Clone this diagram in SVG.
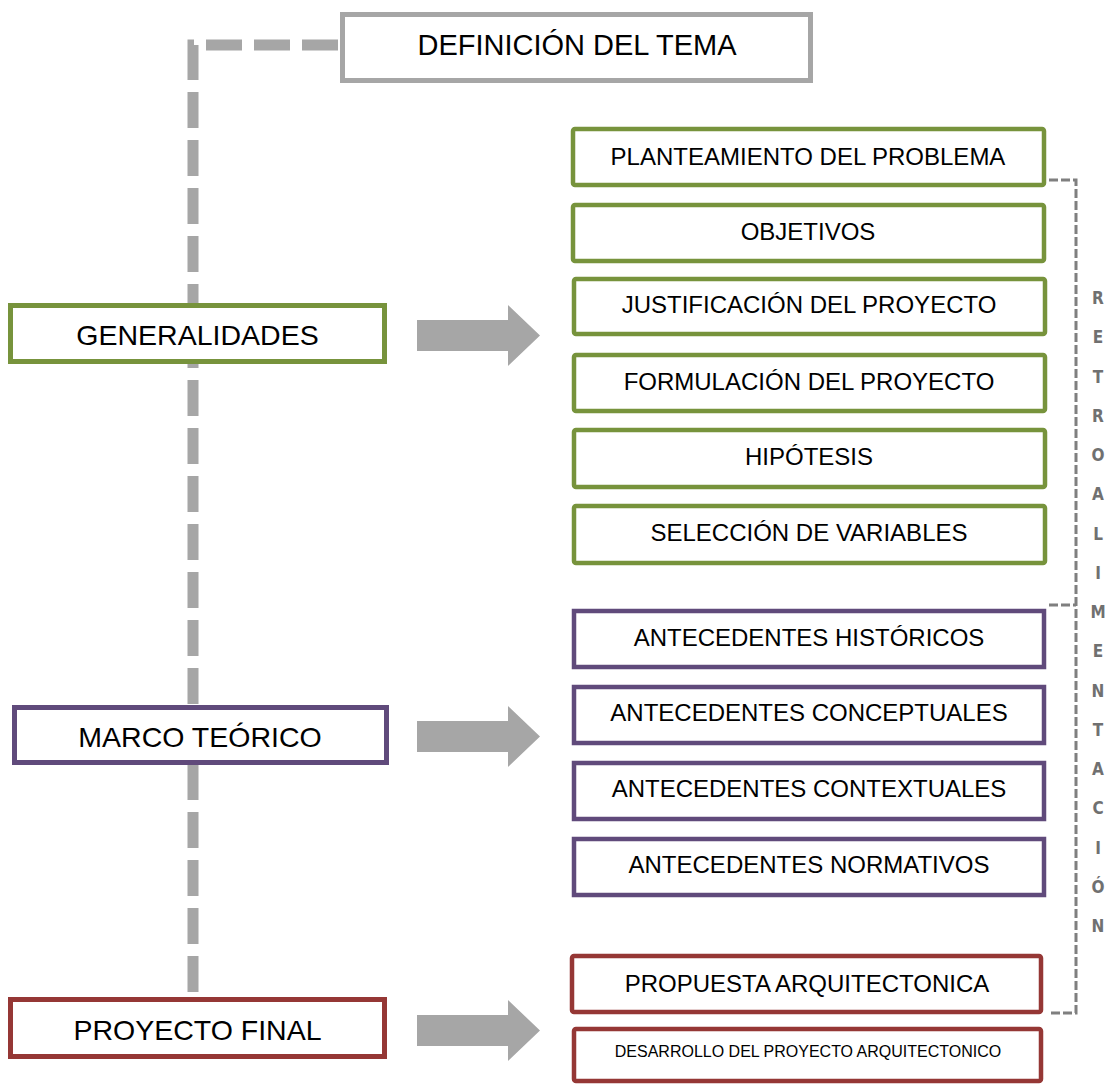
<svg xmlns="http://www.w3.org/2000/svg" width="1110" height="1084" viewBox="0 0 1110 1084">
<style>
.t{font-family:"Liberation Sans",Arial,sans-serif;fill:#000;text-anchor:middle}
.big{font-size:28.5px}
.mid{font-size:24px}
.g{fill:#fff;stroke:#77933c;stroke-width:5}
.gs{fill:#fff;stroke:#77933c;stroke-width:4.5}
.p{fill:#fff;stroke:#604a7b;stroke-width:5}
.ps{fill:#fff;stroke:#604a7b;stroke-width:4.5}
.r{fill:#fff;stroke:#953735;stroke-width:5}
.rs{fill:#fff;stroke:#953735;stroke-width:4.5}
.arrow{fill:#a6a6a6}
.retro{font-family:"Liberation Sans Narrow","DejaVu Sans Condensed","Liberation Sans",sans-serif;font-size:17px;font-weight:600;fill:#707070;text-anchor:middle}
</style>
<rect width="1110" height="1084" fill="#fff"/>
<g id="connectors">
  <path d="M338 45 H193 V995" fill="none" stroke="#a6a6a6" stroke-width="11" stroke-dasharray="36 12"/>
  <g fill="none" stroke="#7f7f7f" stroke-width="3" stroke-dasharray="9 3">
    <path d="M1049 180 H1076 V1013 H1049"/>
    <path d="M1049 605 H1076"/>
  </g>
  <path class="arrow" d="M417 320 H508 V305 L540 335.5 L508 366 V351 H417 Z"/>
  <path class="arrow" d="M417 721 H508 V706 L540 736.5 L508 767 V752 H417 Z"/>
  <path class="arrow" d="M417 1015 H508 V1000 L540 1030.5 L508 1061 V1046 H417 Z"/>
</g>
<g id="definicion">
  <rect x="342.5" y="14.5" width="468" height="66" fill="#fff" stroke="#a6a6a6" stroke-width="5"/>
  <text class="t" x="577" y="55" font-size="29">DEFINICIÓN DEL TEMA</text>
</g>
<g id="generalidades">
  <rect class="g" x="10.5" y="305.5" width="374" height="56"/>
  <text class="t big" x="197.5" y="345">GENERALIDADES</text>
</g>
<g id="marco">
  <rect class="p" x="14.5" y="707.5" width="372" height="55"/>
  <text class="t big" x="200" y="747">MARCO TEÓRICO</text>
</g>
<g id="proyecto">
  <rect class="r" x="10.5" y="999.5" width="374" height="57"/>
  <text class="t big" x="197.5" y="1040">PROYECTO FINAL</text>
</g>
<g id="planteamiento"><rect class="gs" x="573" y="129" width="471" height="56" rx="2"/><text class="t mid" x="808" y="165">PLANTEAMIENTO DEL PROBLEMA</text></g>
<g id="objetivos"><rect class="gs" x="573" y="205" width="471" height="56" rx="2"/><text class="t mid" x="808" y="240">OBJETIVOS</text></g>
<g id="justificacion"><rect class="gs" x="574" y="279" width="471" height="55" rx="2"/><text class="t mid" x="809" y="313">JUSTIFICACIÓN DEL PROYECTO</text></g>
<g id="formulacion"><rect class="gs" x="574" y="355" width="471" height="56" rx="2"/><text class="t mid" x="809" y="390">FORMULACIÓN DEL PROYECTO</text></g>
<g id="hipotesis"><rect class="gs" x="574" y="430" width="471" height="57" rx="2"/><text class="t mid" x="809" y="465">HIPÓTESIS</text></g>
<g id="seleccion"><rect class="gs" x="574" y="506" width="471" height="57" rx="2"/><text class="t mid" x="809" y="541">SELECCIÓN DE VARIABLES</text></g>
<g id="historicos"><rect class="ps" x="574" y="611" width="470" height="56"/><text class="t mid" x="809" y="646">ANTECEDENTES HISTÓRICOS</text></g>
<g id="conceptuales"><rect class="ps" x="574" y="687" width="470" height="56"/><text class="t mid" x="809" y="721">ANTECEDENTES CONCEPTUALES</text></g>
<g id="contextuales"><rect class="ps" x="574" y="763" width="470" height="56"/><text class="t mid" x="809" y="797">ANTECEDENTES CONTEXTUALES</text></g>
<g id="normativos"><rect class="ps" x="574" y="839" width="470" height="56"/><text class="t mid" x="809" y="873">ANTECEDENTES NORMATIVOS</text></g>
<g id="propuesta"><rect class="rs" x="572" y="956" width="469" height="56" rx="2"/><text class="t mid" x="807" y="992">PROPUESTA ARQUITECTONICA</text></g>
<g id="desarrollo"><rect class="rs" x="574" y="1029" width="467" height="52" rx="2"/><text class="t" x="808" y="1057" font-size="16">DESARROLLO DEL PROYECTO ARQUITECTONICO</text></g>
<g id="retroalimentacion">
  <text class="retro" x="1098" y="304"><tspan x="1098">R</tspan><tspan x="1098" dy="39.25">E</tspan><tspan x="1098" dy="39.25">T</tspan><tspan x="1098" dy="39.25">R</tspan><tspan x="1098" dy="39.25">O</tspan><tspan x="1098" dy="39.25">A</tspan><tspan x="1098" dy="39.25">L</tspan><tspan x="1098" dy="39.25">I</tspan><tspan x="1098" dy="39.25">M</tspan><tspan x="1098" dy="39.25">E</tspan><tspan x="1098" dy="39.25">N</tspan><tspan x="1098" dy="39.25">T</tspan><tspan x="1098" dy="39.25">A</tspan><tspan x="1098" dy="39.25">C</tspan><tspan x="1098" dy="39.25">I</tspan><tspan x="1098" dy="39.25">Ó</tspan><tspan x="1098" dy="39.25">N</tspan></text>
</g>
</svg>
